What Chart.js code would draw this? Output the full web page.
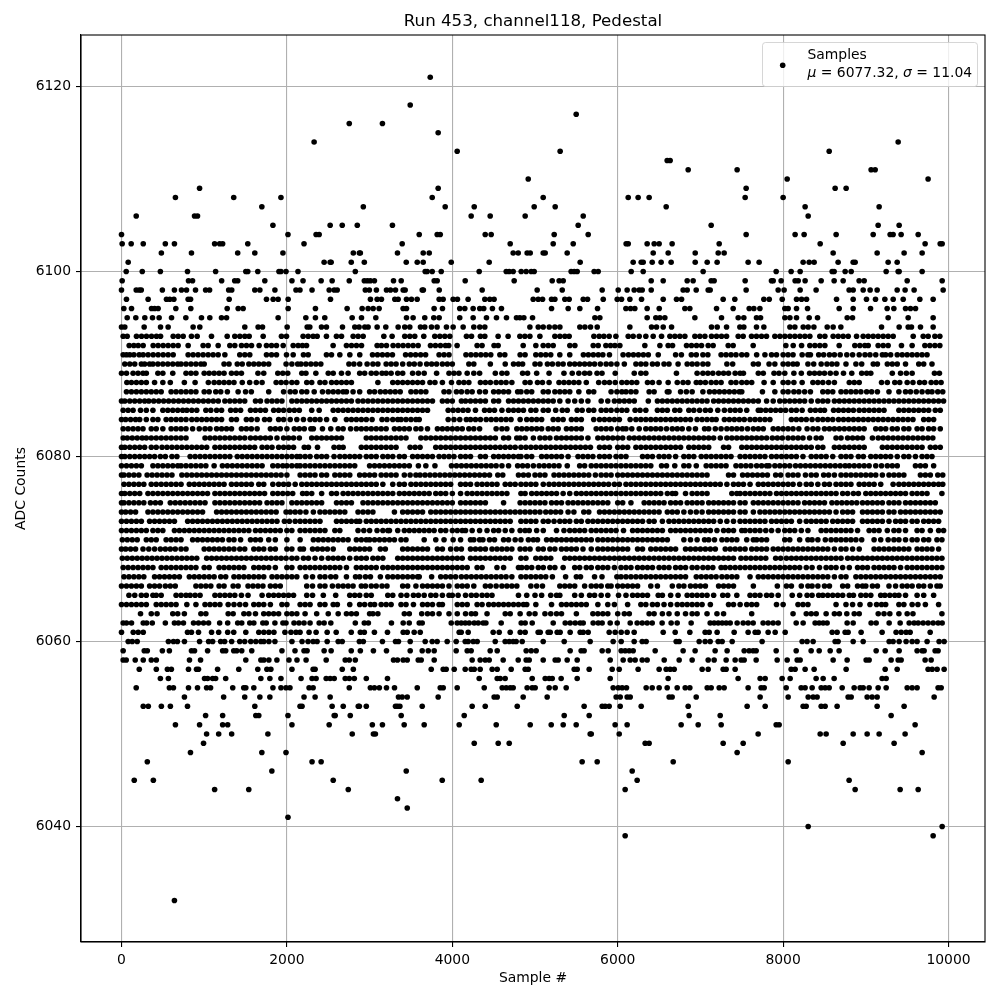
<!DOCTYPE html>
<html>
<head>
<meta charset="utf-8">
<title>Run 453, channel118, Pedestal</title>
<script src="https://cdn.jsdelivr.net/npm/chart.js@4"></script>
<style>
    html, body { margin: 0; padding: 0; background: #fff; }
    #box { width: 1000px; height: 1000px; }
</style>
</head>
<body>
<div id="box"><canvas id="pedestalChart" width="1000" height="1000"></canvas></div>
<script>
// Sample numbers, one list per ADC level
const adc6121 = [3733];
const adc6118 = [3491];
const adc6117 = [5498];
const adc6116 = [2754,3155];
const adc6115 = [3829];
const adc6114 = [2329,9391];
const adc6113 = [4059,5304,8557];
const adc6112 = [6598,6634];
const adc6111 = [6852,7444,9064,9113];
const adc6110 = [4918,8049,9753];
const adc6109 = [944,3829,7553,8629,8762];
const adc6108 = [652,1357,1928,3757,5099,6127,6247,6380,7541,8000];
const adc6107 = [1697,2924,3914,4265,4990,5244,6586,8266,9161];
const adc6106 = [178,883,919,4228,4458,4881,5583,8303];
const adc6105 = [1831,2523,2669,2851,3276,5522,7130,9149,9403];
const adc6104 = [0,2013,2353,2390,3600,3817,3854,4398,4470,5232,5643,7553,8145,8254,8641,9089,9294,9330,9427,9633];
const adc6103 = [8,117,263,530,640,1126,1187,1223,1527,2207,3394,4700,5220,5462,6102,6127,6356,6441,6501,6658,7227,8448,9717,9899,9923];
const adc6102 = [482,846,1405,1612,1952,2803,2876,2888,3337,3648,3721,4736,4797,4905,4942,5099,5123,5389,6429,6610,6937,7215,7287,8605,9137,9463,9681];
const adc6101 = [81,2450,2523,2535,2778,2936,3443,3576,3648,3987,4446,5546,6187,6284,6308,6417,6525,6646,6937,7082,7202,7577,7710,8242,8315,8375,8665,8847,8871,9270,9379];
const adc6100 = [57,251,470,798,1138,1503,1527,1648,1904,1928,1989,2134,2827,3672,3696,3757,3866,4325,4652,4688,4736,4833,4893,4954,4990,5437,5474,5510,5715,5764,6163,6308,7033,7916,8097,8206,8593,8617,8750,8823,9246,9391,9403,9681];
const adc6099 = [8,810,859,1211,1369,1405,1733,2061,2195,2414,2547,2754,2936,2973,3009,3058,3289,3382,3781,3817,4156,4748,5208,5292,5341,6405,6550,6840,6912,7130,7166,7541,7859,7880,7976,8145,8182,8266,8460,8617,8726,8919,8980,9500,9923];
const adc6098 = [0,178,215,239,494,640,725,786,895,1017,1065,1296,1333,1612,1673,1855,2110,2158,2304,2511,2572,2608,2948,2997,3082,3204,3252,3313,3406,3430,3636,3650,3842,4361,5026,5329,5812,6006,6114,6199,6260,6296,6405,6791,6840,6949,7094,7118,7553,7940,8012,8206,8399,8798,8847,8968,9052,9137,9379,9475,9584,9935];
const adc6097 = [60,322,544,584,633,806,835,1302,1753,1834,1894,2015,2527,3010,3091,3143,3305,3345,3446,3506,3575,3841,3889,4010,4062,4191,4393,4453,4505,4978,5039,5091,5200,5240,5361,5413,5583,5635,5825,5994,6046,6147,6288,6550,6711,6772,7275,7416,7767,7832,7989,8162,8223,8283,8646,8847,9008,9117,9230,9331,9452,9653,9814];
const adc6096 = [28,121,363,400,443,657,838,1278,1411,1471,2015,2345,2728,2910,2982,3043,3115,3405,3446,3780,3881,4090,4151,4252,4332,4380,4485,4594,5200,5401,5542,5756,6099,6155,6207,6356,6502,6812,6872,7195,7396,7590,7646,7719,8021,8061,8162,8295,8678,8847,9057,9258,9339,9480,9540,9601];
const adc6095 = [69,173,282,375,455,605,778,967,1068,1209,1270,1894,2229,2345,2458,2789,2902,3075,3446,3526,3667,3776,3841,4090,4252,4413,4534,4655,4776,4817,4865,4970,5724,5784,6356,6461,6510,6570,6933,7255,7457,7525,7678,7727,8021,8082,8162,8315,8416,8775,8839,9270,9512,9814];
const adc6094 = [0,40,274,472,564,866,947,1491,1652,1705,2003,2245,2277,2418,2478,2672,2821,2873,2942,2982,3091,3196,3345,3425,3486,3615,3667,3748,3816,3929,4010,4131,4260,4332,4393,4938,5039,5099,5172,5240,5301,5542,5603,5671,5752,6147,6409,6469,6550,6651,7134,7203,7316,7477,7525,7678,7767,8082,8142,8243,8303,8372,8533,8605,8698,9190,9403,9512,9552,9661,9814];
const adc6093 = [20,69,181,242,302,363,423,472,625,685,746,846,915,1088,1278,1370,1431,1491,1544,1713,1934,1995,2196,2257,2317,2366,2478,2599,2660,2801,2861,2922,3172,3272,3425,3486,3546,3655,3788,3849,3909,3970,4171,4232,4340,4393,4554,4675,4817,4877,4938,5059,5240,5301,5361,5413,5712,5776,5833,5897,5978,6127,6187,6260,6340,6429,6530,6631,6691,6751,6812,6933,6993,7054,7134,7195,7255,7316,7457,7517,7618,7678,7739,7799,7900,7961,8021,8082,8142,8203,8263,8323,8444,8505,8605,8666,8726,8787,8888,8968,9029,9089,9149,9210,9270,9331,9573,9694,9754,9835,9895];
const adc6092 = [93,149,202,262,383,443,504,564,625,685,806,987,1048,1169,1310,1370,1451,1511,1572,1664,1753,1814,1874,1955,2076,2136,2188,2237,2559,2720,2781,2841,2902,3091,3143,3204,3284,3345,3405,3466,3526,3587,3736,3796,3857,3917,3957,4058,4300,4360,4505,4554,4857,5010,5099,5160,5220,5421,5482,5704,5764,5857,5913,5966,6026,6328,6510,6610,6663,6832,6892,6953,7013,7094,7154,7336,7396,7638,8033,8122,8223,8323,8384,8444,8505,8678,8867,8928,8988,9029,9149,9210,9270,9431,9560,9714,9774,9835,9895];
const adc6091 = [20,60,100,150,214,262,322,383,443,504,564,625,806,866,926,987,1048,1108,1169,1250,1430,1491,1551,1753,1814,1874,1995,2076,2200,2257,2478,2539,2640,2761,2881,3035,3095,3155,3215,3276,3435,3496,3556,3617,3677,3840,3900,3960,4165,4225,4285,4345,4405,4465,4575,4635,4820,4880,5010,5070,5130,5190,5300,5420,5585,5645,5705,5765,5820,5900,6065,6130,6190,6250,6310,6370,6490,6700,6770,6890,6950,7030,7090,7250,7310,7370,7430,7500,7560,7680,7780,7860,7920,8000,8060,8120,8230,8300,8330,8430,8490,8560,8620,8690,8770,8840,8920,8990,9050,9120,9200,9240,9300,9380,9440,9500,9560,9620,9680,9740];
const adc6090 = [40,100,160,240,280,340,380,440,500,560,620,680,720,780,840,900,960,1000,1240,1300,1400,1460,1540,1600,1660,1720,1780,1990,2060,2130,2170,2230,2290,2350,2410,2750,2810,2880,2970,3040,3100,3200,3260,3320,3400,3480,3540,3610,3690,3750,3810,3880,3940,4000,4200,4260,4460,4640,4740,4800,4850,5000,5060,5150,5210,5280,5340,5420,5480,5540,5600,5660,5720,5790,5860,5920,5990,6080,6220,6280,6340,6420,6480,6560,6620,6730,6840,6900,6960,7030,7090,7320,7390,7640,7700,7830,7900,8000,8060,8120,8170,8300,8370,8460,8530,8590,8650,8760,8880,8950,9090,9140,9260,9320,9380,9480,9640,9700,9800];
const adc6089 = [0,60,140,200,260,300,440,500,620,780,840,900,1000,1060,1120,1180,1240,1330,1390,1450,1650,1720,1890,1950,2010,2180,2230,2350,2500,2560,2660,2740,2880,2940,3020,3080,3150,3200,3260,3340,3400,3520,3590,3660,3810,3960,4020,4080,4180,4260,4330,4520,4600,4660,4850,4910,5020,5170,5350,5450,5530,5600,5660,5750,5810,5970,6200,6280,6340,6710,6960,7030,7090,7150,7220,7280,7340,7420,7480,7520,7700,7760,7890,7950,8020,8130,8220,8320,8380,8440,8500,8570,8640,8730,8830,8950,9010,9060,9320,9420,9490,9560,9830,9890];
const adc6088 = [65,120,180,240,300,400,500,590,760,890,1050,1120,1180,1240,1300,1360,1460,1550,1630,1700,1870,1930,1990,2060,2120,2240,2300,2400,2460,2540,2600,2660,2720,2780,3100,3280,3340,3400,3460,3520,3580,3640,3730,3790,3880,3990,4080,4140,4200,4340,4400,4460,4530,4590,4650,4720,4880,4940,5030,5090,5170,5290,5350,5410,5470,5530,5620,5770,5840,5900,5970,6050,6110,6170,6230,6360,6420,6500,6610,6720,6790,6850,6950,7000,7060,7130,7190,7250,7370,7430,7500,7560,7620,7770,7880,8000,8060,8130,8230,8360,8420,8480,8550,8620,8800,8860,8920,9190,9260,9350,9410,9500,9570,9650,9710,9790,9850,9910];
const adc6087 = [60,120,180,240,300,360,420,480,600,660,720,780,840,900,1000,1060,1140,1200,1280,1410,1500,1570,1780,1960,2040,2100,2180,2240,2330,2430,2500,2560,2620,2680,2720,2800,2880,3000,3060,3130,3190,3250,3310,3370,3500,3560,3620,3680,3900,3960,4050,4110,4180,4240,4330,4400,4500,4560,4620,4680,4790,4830,4900,4960,5100,5160,5240,5300,5360,5420,5530,5650,5710,5920,5990,6050,6100,6160,6220,6380,6440,6600,6620,6760,6830,6900,7030,7110,7170,7230,7290,7350,7410,7470,7500,7750,7900,8000,8060,8130,8190,8260,8330,8480,8540,8600,8700,8760,8820,8880,8940,9010,9070,9140,9280,9400,9480,9540,9610,9680,9750,9800,9870,9930];
const adc6086 = [0,40,100,160,220,280,330,390,450,510,570,630,690,750,810,870,930,990,1050,1110,1170,1250,1310,1370,1430,1490,1620,1680,1760,1820,1880,1940,2060,2120,2180,2240,2300,2360,2420,2480,2540,2600,2660,2720,2780,2860,2920,2980,3040,3100,3160,3220,3280,3340,3400,3460,3520,3580,3640,3700,3760,3880,3940,4000,4110,4160,4220,4280,4340,4400,4500,4560,4680,4740,4800,4860,4920,4980,5040,5100,5160,5220,5300,5400,5480,5560,5640,5800,5880,5960,6020,6080,6140,6200,6370,6480,6540,6600,6660,6720,6780,6840,6900,6960,7020,7080,7160,7220,7280,7340,7400,7460,7520,7580,7640,7700,7800,7880,7960,8020,8080,8140,8200,8260,8340,8420,8480,8540,8620,8680,8740,8800,8860,8920,8980,9040,9100,9160,9220,9280,9340,9400,9460,9520,9580,9640,9700,9760,9820,9880,9940];
const adc6085 = [20,80,140,230,300,380,500,560,620,680,740,790,850,910,1020,1080,1150,1210,1320,1380,1440,1560,1620,1680,1740,1840,1900,1960,2030,2090,2150,2300,2390,2560,2620,2680,2740,2800,2860,2920,2980,3040,3100,3160,3220,3280,3340,3400,3460,3520,3580,3640,3700,3950,4010,4070,4130,4190,4280,4390,4450,4510,4600,4680,4740,4800,4860,4950,5010,5100,5160,5250,5330,5390,5510,5570,5650,5710,5800,5860,5920,5990,6050,6110,6210,6270,6340,6480,6540,6600,6690,6750,6860,6920,6990,7060,7120,7210,7290,7360,7420,7480,7560,7700,7730,7790,7850,7910,7970,8030,8100,8160,8230,8330,8390,8450,8500,8610,8670,8730,8790,8850,8920,8980,9040,9100,9160,9220,9400,9460,9520,9580,9640,9700,9760,9840,9900];
const adc6084 = [0,50,110,170,220,300,380,440,540,600,660,720,780,850,910,970,1030,1090,1150,1210,1330,1390,1510,1570,1640,1730,1790,1900,1960,2040,2120,2200,2280,2340,2400,2480,2580,2720,2780,2840,2900,2960,3030,3150,3210,3280,3340,3380,3440,3500,3560,3600,3950,4020,4090,4170,4220,4280,4340,4410,4470,4530,4590,4650,4710,4820,4900,4960,5020,5080,5220,5280,5340,5440,5500,5560,5710,5780,5840,5900,5960,6020,6150,6220,6280,6340,6400,6460,6520,6580,6640,6700,6760,6820,6880,6960,7020,7080,7140,7190,7290,7350,7410,7470,7530,7600,7660,7720,7780,7840,8100,8160,8220,8280,8350,8420,8480,8540,8600,8670,8730,8790,8850,8910,8970,9030,9090,9150,9210,9270,9330,9390,9450,9510,9570,9700,9760,9820];
const adc6083 = [20,80,140,200,260,360,420,500,600,660,720,780,860,940,1010,1070,1150,1210,1270,1330,1450,1510,1570,1640,1800,1860,1920,2000,2090,2150,2210,2290,2320,2430,2530,2620,2680,2770,2840,2900,2960,3020,3080,3140,3200,3300,3360,3420,3480,3560,3620,3700,3820,3880,3940,4000,4060,4120,4200,4260,4330,4530,4600,4660,4780,4840,4900,4960,5020,5080,5160,5220,5280,5380,5440,5500,5560,5740,5800,5860,5920,6000,6060,6100,6170,6260,6340,6400,6460,6520,6590,6660,6720,6780,6860,6940,7050,7100,7180,7250,7320,7380,7440,7500,7570,7640,7700,7760,7880,7940,8000,8060,8120,8190,8290,8360,8420,8500,8560,8620,8680,8740,8800,8860,8920,8980,9120,9180,9240,9320,9380,9460,9520,9620,9680,9760,9820,9900];
const adc6082 = [20,70,130,190,250,300,360,420,480,540,600,660,720,780,1010,1070,1130,1190,1250,1310,1370,1430,1490,1560,1620,1680,1740,1800,1880,1960,2020,2080,2150,2300,2360,2420,2480,2540,2600,2660,2960,3020,3080,3140,3200,3260,3320,3380,3440,3620,3680,3740,3800,3860,3920,3980,4040,4100,4160,4220,4280,4340,4400,4460,4520,4620,4680,4780,4820,4880,4980,5060,5120,5180,5260,5320,5380,5440,5500,5560,5640,5760,5820,5880,5940,6000,6060,6140,6200,6260,6320,6380,6440,6500,6560,6620,6680,6740,6800,6860,6920,6980,7040,7100,7160,7240,7320,7380,7440,7500,7560,7620,7680,7740,7800,7870,7930,7990,8060,8120,8180,8240,8320,8400,8460,8640,8700,8780,8840,8900,8960,9080,9150,9210,9270,9330,9390,9450,9510,9570,9630,9690,9750,9810];
const adc6081 = [0,40,100,160,220,280,360,420,490,550,610,670,730,790,850,910,970,1030,1130,1190,1250,1310,1370,1430,1490,1550,1610,1700,1760,1820,1900,1960,2020,2080,2210,2260,2370,2570,2630,2680,2900,2960,3020,3080,3140,3200,3260,3320,3490,3550,3610,3800,3860,3920,3980,4040,4100,4160,4220,4280,4340,4400,4460,4520,4580,4640,4700,4760,4830,4890,4950,5010,5070,5130,5190,5250,5310,5370,5430,5490,5550,5610,5670,5780,5840,5900,6000,6060,6120,6220,6280,6340,6400,6460,6520,6580,6640,6700,6760,6860,6920,6980,7040,7100,7280,7340,7500,7560,7620,7680,7740,7800,7860,7920,7980,8040,8100,8160,8220,8280,8340,8420,8480,8620,8680,8740,8800,8860,8920,8980,9200,9260,9320,9380,9440,9500,9560,9620,9680,9780,9840,9900];
const adc6080 = [0,40,100,160,220,280,340,400,470,530,610,670,830,890,950,1010,1070,1130,1190,1250,1310,1400,1460,1520,1580,1640,1700,1760,1820,1880,1940,2000,2060,2120,2160,2220,2280,2360,2420,2480,2570,2640,2700,2760,2820,2880,2960,3020,3080,3160,3220,3280,3360,3420,3520,3580,3640,3700,3760,3840,3900,3960,4020,4100,4160,4220,4340,4400,4500,4560,4620,4680,4740,4800,4830,4900,4960,5080,5140,5200,5260,5320,5400,5520,5580,5640,5700,5780,5840,5900,5980,6040,6100,6300,6360,6420,6500,6560,6620,6700,6800,6860,6920,7010,7070,7130,7190,7250,7310,7370,7480,7540,7600,7660,7720,7780,7860,7920,7980,8040,8100,8160,8240,8340,8400,8460,8520,8600,8700,8760,8820,8910,8970,9060,9120,9180,9240,9300,9380,9460,9520,9600,9680,9740,9800];
const adc6079 = [0,60,120,180,240,380,440,500,560,620,680,720,780,840,900,960,1020,1120,1220,1280,1340,1400,1460,1520,1580,1640,1700,1830,1890,1950,2000,2060,2120,2160,2220,2280,2340,2400,2460,2520,2580,2640,2700,2760,2820,3000,3060,3120,3180,3240,3300,3360,3420,3480,3590,3680,3790,3990,4050,4110,4170,4230,4290,4350,4410,4470,4530,4600,4680,4790,4850,4910,4980,5050,5110,5170,5230,5290,5390,5540,5600,5680,5740,5800,5860,5920,5980,6040,6100,6160,6220,6280,6340,6400,6530,6590,6690,6800,6860,6950,7070,7130,7190,7250,7310,7430,7490,7550,7610,7680,7740,7800,7830,7900,7960,8020,8080,8150,8210,8270,8330,8390,8450,8510,8570,8630,8690,8750,8800,8860,8920,8980,9040,9120,9190,9260,9320,9380,9600,9660,9720,9820];
const adc6078 = [0,30,90,150,210,310,370,430,490,550,610,730,790,850,910,970,1030,1090,1150,1210,1270,1330,1390,1450,1510,1570,1630,1690,1750,1810,1870,1930,2000,2160,2220,2280,2340,2420,2480,2580,2640,2700,2760,2880,2940,3000,3060,3140,3200,3260,3320,3420,3490,3560,3610,3670,3730,3790,3850,3910,3970,4030,4090,4150,4210,4270,4330,4390,4450,4550,4610,4800,4860,4920,5000,5060,5120,5230,5290,5350,5410,5470,5530,5590,5650,5730,5800,5860,5920,6000,6060,6120,6180,6240,6300,6360,6420,6480,6540,6600,6660,6720,6780,6840,6900,6960,7020,7080,7340,7400,7510,7570,7630,7690,7750,7810,7910,7970,8060,8120,8180,8270,8340,8400,8490,8550,8620,8700,8760,8820,8880,8940,9000,9060,9120,9200,9280,9340,9400,9460,9660,9720,9780,9870,9930];
const adc6077 = [30,90,150,210,270,360,420,480,540,600,660,720,820,880,940,1000,1060,1120,1180,1240,1330,1390,1450,1510,1570,1660,1720,1830,1900,1960,2020,2100,2180,2240,2300,2360,2420,2480,2540,2600,2660,2720,2780,2840,2900,2960,3020,3080,3160,3280,3360,3420,3500,3560,3620,3680,3740,3800,3860,3920,3980,4100,4160,4220,4300,4360,4420,4480,4540,4640,4700,4760,4830,4890,4950,5010,5100,5170,5230,5290,5350,5410,5470,5530,5590,5650,5710,5770,5830,5890,5960,6020,6100,6160,6220,6280,6340,6400,6460,6520,6580,6640,6700,6760,6820,6880,6940,7000,7060,7120,7180,7240,7320,7400,7460,7520,7600,7700,7760,7820,7880,7940,8000,8060,8120,8200,8280,8340,8420,8500,8560,8640,8700,8760,8820,8920,8980,9040,9100,9180,9330,9400,9460,9520,9580,9640,9700,9760,9820,9880,9930];
const adc6076 = [0,40,100,160,220,320,380,440,500,560,620,680,740,800,860,920,980,1040,1130,1190,1250,1310,1370,1430,1490,1550,1610,1670,1730,1830,1890,1950,2010,2070,2190,2240,2300,2420,2540,2600,2680,2740,2800,2860,2920,2980,3040,3100,3160,3220,3280,3360,3420,3480,3540,3600,3660,3720,3800,3860,3920,4000,4100,4180,4240,4300,4360,4420,4480,4540,4600,4660,4830,4880,4960,5020,5080,5140,5200,5260,5340,5420,5500,5560,5620,5680,5740,5800,5860,5920,5980,6040,6100,6160,6220,6280,6340,6400,6460,6520,6600,6660,6700,6820,6900,6960,7020,7080,7380,7440,7480,7540,7600,7660,7720,7780,7840,7920,7980,8040,8100,8160,8220,8280,8340,8400,8460,8520,8580,8640,8720,8780,8850,8910,9000,9060,9120,9180,9240,9300,9360,9420,9480,9560,9620,9680,9740,9920];
const adc6075 = [0,30,90,150,210,270,350,410,470,590,650,710,770,830,890,950,1010,1130,1190,1250,1310,1370,1430,1490,1550,1610,1670,1760,1820,1880,1940,2060,2120,2180,2240,2300,2360,2420,2600,2660,2720,2780,2920,2980,3040,3100,3160,3220,3280,3340,3400,3460,3520,3580,3640,3700,3760,3820,3880,3940,4000,4100,4160,4220,4280,4340,4400,4620,4820,4880,4940,5000,5060,5120,5200,5260,5320,5400,5460,5520,5580,5640,5700,5760,5820,5880,6000,6060,6160,6320,6380,6440,6500,6560,6640,6700,6760,6840,6900,6960,7020,7100,7160,7220,7280,7340,7400,7480,7540,7640,7700,7760,7820,7880,7940,8000,8060,8120,8180,8260,8320,8380,8440,8500,8590,8650,8710,8770,8830,8890,8960,9020,9080,9140,9200,9280,9340,9400,9480,9540,9600,9660,9720,9780,9840];
const adc6074 = [0,50,110,170,320,380,440,500,560,620,680,740,800,860,920,980,1150,1210,1270,1330,1390,1450,1510,1570,1630,1690,1750,1810,1870,1990,2040,2100,2160,2230,2320,2400,2460,2520,2580,2640,2700,2860,2920,2980,3040,3300,3400,3460,3520,3580,3640,3740,3800,3860,3920,3980,4040,4100,4160,4220,4280,4340,4400,4460,4520,4580,4640,4700,4760,4820,4880,4940,5000,5060,5130,5190,5250,5310,5400,5470,5590,5650,5780,5840,5900,5960,6020,6080,6140,6200,6260,6320,6380,6440,6500,6600,6660,6720,6800,6880,6950,7020,7100,7160,7220,7280,7340,7400,7480,7540,7640,7720,7780,7840,7900,7960,8020,8080,8140,8200,8260,8320,8380,8440,8500,8560,8640,8720,8780,8840,8960,9020,9080,9140,9200,9280,9340,9420,9480,9540,9600,9660,9720,9780,9840,9900];
const adc6073 = [0,60,120,180,240,340,400,460,520,580,640,800,860,920,980,1040,1100,1160,1220,1280,1340,1400,1460,1520,1580,1640,1700,1760,1820,1880,1970,2030,2100,2160,2220,2280,2340,2400,2600,2660,2720,2780,2840,2880,2960,3020,3080,3140,3200,3260,3320,3380,3440,3500,3560,3620,3680,3740,3800,3860,3920,3980,4040,4100,4160,4220,4280,4340,4400,4460,4520,4580,4640,4700,4830,4890,4950,5010,5100,5160,5230,5300,5360,5420,5500,5560,5640,5700,5760,5820,5880,5940,6000,6060,6120,6180,6240,6300,6380,6440,6540,6620,6680,6740,6800,6860,6920,6980,7040,7100,7160,7240,7320,7400,7480,7540,7600,7660,7720,7780,7860,7920,7980,8040,8100,8200,8280,8340,8400,8460,8520,8600,8660,8720,8780,8840,8960,9020,9080,9140,9200,9280,9360,9420,9480,9560,9620,9700,9760,9820,9880];
const adc6072 = [0,60,120,180,240,300,380,440,500,640,700,760,820,880,940,1000,1060,1120,1180,1240,1300,1360,1420,1480,1540,1620,1680,1740,1800,1860,1920,2000,2060,2160,2220,2280,2340,2400,2460,2580,2640,2860,2930,3000,3090,3160,3220,3240,3340,3420,3480,3540,3600,3660,3720,3780,3860,3920,4000,4060,4120,4160,4240,4330,4420,4500,4560,4640,4720,4820,4880,4930,5020,5100,5260,5350,5420,5480,5540,5600,5680,5740,5800,5860,5920,5980,6070,6180,6240,6300,6360,6420,6480,6540,6640,6700,6760,6820,6880,6940,7000,7060,7120,7200,7280,7340,7400,7500,7540,7600,7660,7720,7790,7860,7940,8020,8080,8140,8220,8300,8460,8520,8580,8640,8700,8760,8820,8900,9040,9100,9160,9260,9340,9400,9480,9620,9680,9780,9880,9940];
const adc6071 = [10,70,130,190,300,360,420,540,600,660,720,860,920,980,1040,1100,1160,1220,1300,1360,1440,1560,1620,1680,1780,1860,2000,2160,2320,2380,2440,2500,2560,2620,2680,2740,2840,2900,2960,3000,3060,3120,3180,3240,3300,3380,3440,3660,3800,3900,4010,4100,4220,4260,4330,4370,4450,4510,4620,4680,4760,4830,4920,4980,5030,5140,5200,5260,5320,5380,5440,5500,5560,5620,5680,5760,5820,5880,5940,6000,6060,6120,6180,6240,6300,6360,6420,6480,6540,6600,6800,6880,6960,7050,7100,7170,7260,7320,7380,7440,7560,7640,7680,7740,7800,8020,8080,8200,8300,8350,8420,8510,8580,8640,8700,8760,8820,8880,8950,9100,9180,9270,9340,9400,9480,9560,9620,9700,9760,9860,9920];
const adc6070 = [0,50,110,170,260,330,400,470,530,590,650,720,780,1000,1060,1120,1180,1240,1300,1360,1430,1490,1600,1660,1720,1800,1860,2000,2060,2160,2200,2310,2370,2430,2490,2560,2760,2820,2880,2940,3000,3130,3190,3400,3460,3520,3580,3640,3700,3820,3880,3980,4050,4110,4220,4280,4340,4400,4480,4540,4600,4660,4720,4820,4880,4940,5040,5100,5180,5240,5320,5380,5440,5500,5580,5680,5760,5820,5880,5940,6000,6060,6120,6240,6300,6400,6460,6520,6580,6640,6700,6820,6880,6940,7000,7060,7120,7180,7300,7360,7420,7480,7540,7620,7680,7740,7800,7880,7940,8000,8060,8120,8180,8240,8300,8360,8420,8480,8540,8620,8700,8760,8840,8920,9100,9160,9220,9280,9340,9400,9460,9520,9620,9680,9740,9800,9880];
const adc6069 = [10,70,130,190,250,310,370,430,490,550,610,670,730,790,850,910,1030,1090,1150,1210,1270,1330,1390,1450,1510,1570,1630,1690,1750,1810,1870,1930,1990,2060,2120,2200,2260,2340,2420,2500,2560,2620,2680,2760,2840,2900,2960,3040,3100,3160,3340,3400,3460,3520,3580,3640,3700,3760,3820,3880,3940,4000,4060,4120,4220,4280,4340,4400,4460,4520,4580,4640,4700,4830,4890,5010,5070,5130,5190,5360,5420,5480,5540,5600,5660,5720,5780,5840,5900,5960,6020,6080,6140,6200,6260,6320,6380,6440,6500,6560,6620,6680,6740,6800,6860,6920,6980,7040,7100,7160,7220,7280,7340,7400,7490,7550,7610,7670,7730,7790,7910,7970,8040,8100,8160,8220,8280,8340,8400,8460,8520,8580,8640,8700,8780,8840,8900,8960,9020,9080,9140,9200,9260,9320,9380,9440,9500,9560,9620,9680,9740,9800,9860,9920];
const adc6068 = [20,80,140,200,260,320,380,480,540,600,660,720,780,840,900,1000,1060,1180,1240,1300,1360,1420,1480,1600,1660,1720,1780,1860,2000,2060,2160,2220,2280,2340,2400,2460,2520,2580,2640,2720,2840,2900,2960,3020,3080,3160,3220,3280,3340,3400,3460,3520,3580,3640,3700,3760,3820,3880,3940,4000,4060,4120,4180,4300,4360,4540,4620,4800,4840,4900,4960,5040,5100,5180,5240,5340,5480,5540,5620,5680,5760,5820,5880,5960,6040,6100,6160,6240,6300,6360,6420,6500,6560,6620,6700,6760,6820,6900,6960,7030,7090,7150,7250,7300,7360,7420,7480,7540,7600,7660,7720,7780,7840,7900,7960,8020,8080,8140,8200,8280,8350,8440,8520,8580,8640,8720,8800,8900,8960,9020,9100,9160,9220,9280,9340,9420,9500,9560,9620,9680,9740,9800,9860,9920];
const adc6067 = [30,90,150,210,270,400,460,520,580,640,700,820,880,940,1000,1060,1120,1200,1260,1360,1420,1480,1540,1600,1660,1720,1820,1880,1940,2000,2060,2120,2230,2310,2400,2460,2530,2590,2720,2830,2880,2950,3010,3130,3220,3280,3340,3400,3460,3520,3580,3600,3750,3860,3920,3980,4040,4110,4170,4230,4290,4350,4410,4470,4530,4590,4650,4720,4830,4890,4950,5010,5070,5130,5210,5370,5500,5550,5720,5810,5990,6040,6100,6160,6220,6280,6340,6400,6460,6520,6580,6640,6700,6760,6820,6950,7010,7070,7130,7190,7260,7320,7380,7440,7600,7700,7760,7820,7880,7940,8000,8060,8120,8180,8240,8300,8360,8420,8480,8540,8620,8700,8760,8880,8940,9000,9060,9120,9180,9240,9300,9360,9420,9480,9540,9600,9660,9720,9780,9840,9900];
const adc6066 = [0,60,120,180,240,340,400,460,530,590,650,900,960,1020,1080,1180,1240,1350,1410,1530,1590,1650,1710,1800,1860,1920,2240,2310,2400,2460,2550,2620,2680,2740,2800,2900,2950,3020,3080,3150,3210,3400,3460,3560,3640,3700,3760,3820,3880,3960,4060,4120,4180,4260,4400,4460,4530,4600,4660,4720,4780,4950,5020,5090,5300,5360,5420,5480,5600,5680,5740,5800,5880,5920,6000,6060,6120,6180,6240,6400,6480,6660,6740,6800,6880,6940,7000,7060,7220,7280,7340,7400,7640,7930,8040,8100,8220,8300,8350,8420,8500,8560,8720,8780,8900,8960,9000,9080,9140,9280,9360,9440,9500,9560,9640,9700,9780,9860,9900];
const adc6065 = [90,160,240,300,380,420,480,660,720,780,830,890,950,1130,1190,1250,1310,1370,1450,1530,1700,1780,1840,1900,1960,2020,2080,2240,2310,2440,2590,2760,2820,2880,2960,3020,3220,3280,3380,3450,3530,3590,3660,3740,3800,3880,3960,4000,4070,4160,4230,4290,4360,4420,4480,4800,4900,5000,5080,5190,5260,5300,5480,5560,5660,5720,5800,5880,6010,6100,6180,6240,6300,6360,6490,6540,6640,6730,6840,6900,6960,7020,7080,7160,7270,7330,7440,7600,7660,7720,7800,7860,7940,8110,8200,8290,8350,8430,8480,8540,8600,8660,8720,8800,8850,8940,9000,9060,9180,9230,9290,9350,9400,9480,9620,9700,9820];
const adc6064 = [0,60,120,180,240,300,420,480,540,600,660,790,900,1010,1070,1130,1190,1290,1360,1430,1500,1600,1660,1720,1800,1940,2000,2160,2220,2280,2400,2460,2560,2610,2760,2880,2940,3010,3060,3140,3200,3260,3380,3440,3530,3640,3700,3760,3840,3880,4060,4120,4180,4300,4360,4440,4500,4560,4620,4680,4740,4800,4860,4900,5010,5200,5320,5380,5440,5500,5560,5620,5760,5880,5960,6120,6280,6340,6420,6480,6560,6640,6720,6780,6840,6900,6960,7020,7120,7340,7400,7480,7560,7620,7680,7920,8000,8180,8240,8300,8640,8760,8840,8930,9050,9130,9190,9240,9400,9460,9560,9630,9720,9880];
const adc6063 = [230,360,430,620,680,760,960,1020,1290,1350,1480,1540,1620,1720,1780,1840,1900,2000,2060,2120,2220,2360,2500,2620,2720,2780,2840,3000,3040,3100,3420,3480,3630,3700,3760,3840,3960,4060,4160,4230,4280,4420,4640,4700,4820,4930,5000,5120,5190,5260,5320,5500,5700,5760,5820,5880,6000,6080,6140,6380,6440,6540,6620,6720,6820,6900,6960,7080,7200,7280,7620,8120,8280,8340,8400,8520,8620,8680,8770,8860,8920,9150,9220,9290,9400,9500,9570,9920];
const adc6062 = [20,60,121,263,304,372,530,640,688,749,871,931,992,1053,1187,1284,1405,1454,1551,1600,1709,1750,1855,1952,1989,2086,2146,2207,2280,2390,2450,2531,2827,2936,2985,3264,3406,3479,3600,3636,3987,4059,4108,4156,4204,4265,4313,4373,4406,4591,4833,4881,4966,5220,5365,5425,5486,5546,5583,5703,5764,5812,5909,5994,6151,6235,6296,6356,6417,6537,6646,6719,6888,7118,7166,7215,7263,7311,7360,7444,7517,7577,7638,7758,7819,7879,7940,8158,8242,8387,8436,8484,8532,8774,8847,9064,9125,9282,9415,9524,9584,9633,9693,9753,9814,9874,9923];
const adc6061 = [0,142,202,263,798,846,931,1089,1175,1284,1357,1503,1660,1721,1782,1843,1976,2049,2110,2159,2268,2353,2487,2596,2778,2888,2936,3058,3216,3406,3455,3539,3612,4083,4108,4192,4494,4567,4700,4821,4881,5038,5063,5159,5184,5268,5304,5425,5546,5583,5643,5897,5969,6042,6114,6199,6550,6695,6872,7057,7106,7202,7408,7577,7662,7698,7819,7904,8025,8593,8653,8750,8786,8943,9197,9366,9427,9487,9536,9778];
const adc6060 = [81,130,190,567,628,676,761,944,1053,1102,1199,1247,1332,1430,1490,1563,1624,1685,1721,1782,1855,2061,2183,2256,2317,2365,2487,2620,2669,2876,2924,3155,3313,3349,3491,3672,3757,3817,3938,4047,4156,4192,4253,4301,4519,4639,4688,4736,4772,4845,5099,5353,5667,5945,6042,6199,6296,6344,6707,6743,6985,7057,7118,7215,7263,7384,7746,8230,8290,8363,8629,8665,8847,8968,9282,9330,9403,9487,9560,9620,9741,9886,9947];
const adc6059 = [20,275,312,494,579,846,883,1041,1223,1260,1357,1393,1454,1575,1940,2098,2207,2244,2450,2535,2778,2888,3046,3204,3491,3636,3709,3781,4047,4180,4228,4458,4543,4893,4954,5014,5425,5558,5594,5812,5885,6042,6090,6139,6187,6453,6791,6936,7178,7323,7529,7589,7638,7674,7916,8158,8339,8436,8569,8677,9125,9234,9403,9620,9681,9705,9838,9874];
const adc6058 = [20,57,166,263,360,421,822,956,1503,1685,1721,1782,1879,2025,2122,2232,2475,2705,2754,2827,3289,3337,3406,3455,3588,3624,3781,4240,4337,4398,4446,4615,4797,4893,4930,5099,5244,5280,5389,5510,5909,6066,6151,6211,6296,6356,6562,6743,6900,7094,7166,7311,7420,7493,7529,7674,7928,8049,8170,8206,8605,8774,9004,9040,9306,9391,9427,9717,9790];
const adc6057 = [215,421,555,603,810,907,931,1162,1418,1648,1758,1806,2061,2317,2341,2669,2803,3745,3890,3926,4023,4156,4228,4265,4337,4482,4543,4712,4881,4918,5474,5510,5655,5933,6018,6247,6501,6586,6634,6683,7021,7094,7275,7311,7420,8097,8145,8266,8375,8762,9234,9379,9753,9802,9862,9947];
const adc6056 = [470,567,1004,1041,1102,1138,1260,1685,1794,1928,2171,2304,2353,2475,2523,2572,2705,2754,2815,2960,3216,4325,4543,4579,4639,4966,5123,5171,5208,5316,5510,5909,6610,7456,7722,7783,7988,8085,8399,8484,8617,9197,9246];
const adc6055 = [178,579,628,810,919,1029,1077,1345,1478,1503,1600,1831,1928,1989,2037,2268,2317,2754,3009,3058,3118,3204,3301,3576,3854,3890,4059,4386,4603,4652,4700,4736,4905,4966,5002,5171,5244,5377,5945,6006,6054,6106,6344,6417,6501,6598,6719,6816,6872,7082,7130,7227,7287,7577,7734,7771,8037,8218,8266,8351,8460,8508,8557,8714,8859,8931,8968,9040,9149,9246,9500,9560,9620,9874,9911];
const adc6054 = [761,1235,1490,1673,1794,2207,2341,2523,3349,3394,3455,3829,4506,4543,4857,5147,5981,6030,6114,6151,6622,6658,6949,7722,8061,8303,8363,8411,8786,8823,9016,9076,9137,9826];
const adc6053 = [263,324,482,591,798,1612,2159,2183,2547,2681,2863,2876,2960,3313,3337,3366,3636,4240,4398,4785,5594,5812,5848,5897,6030,6284,6852,7565,7783,8242,8279,8460,8508,8653,9137,9463];
const adc6052 = [1017,1223,1624,1660,2013,2572,2584,2766,3382,4144,5353,5655,6864,7239,9306];
const adc6051 = [652,944,1223,1284,2061,2511,3033,3155,3418,3660,4083,4531,4942,5196,5341,5498,5969,6114,6767,6973,7251,7916,7952,9596];
const adc6050 = [1029,1175,1332,1770,2790,3046,3070,5667,5680,6018,7698,8448,8520,8847,9016,9161,9475];
const adc6049 = [992,4265,4555,4688,6332,6380,7275,7517,8726,9342];
const adc6048 = [834,1697,1989,7444,9681];
const adc6047 = [312,2304,2414,5570,5752,6671,8061];
const adc6046 = [1818,3443,6175];
const adc6045 = [154,385,2560,3878,4349,6235,8798];
const adc6044 = [1126,1539,2742,6090,8871,9415,9633];
const adc6043 = [3337];
const adc6042 = [3455];
const adc6041 = [2013];
const adc6040 = [8303,9923];
const adc6039 = [6090,9814];
const adc6032 = [640];

const sampleRows = [
    [6121, adc6121], [6118, adc6118], [6117, adc6117], [6116, adc6116], [6115, adc6115], [6114, adc6114],
    [6113, adc6113], [6112, adc6112], [6111, adc6111], [6110, adc6110], [6109, adc6109], [6108, adc6108],
    [6107, adc6107], [6106, adc6106], [6105, adc6105], [6104, adc6104], [6103, adc6103], [6102, adc6102],
    [6101, adc6101], [6100, adc6100], [6099, adc6099], [6098, adc6098], [6097, adc6097], [6096, adc6096],
    [6095, adc6095], [6094, adc6094], [6093, adc6093], [6092, adc6092], [6091, adc6091], [6090, adc6090],
    [6089, adc6089], [6088, adc6088], [6087, adc6087], [6086, adc6086], [6085, adc6085], [6084, adc6084],
    [6083, adc6083], [6082, adc6082], [6081, adc6081], [6080, adc6080], [6079, adc6079], [6078, adc6078],
    [6077, adc6077], [6076, adc6076], [6075, adc6075], [6074, adc6074], [6073, adc6073], [6072, adc6072],
    [6071, adc6071], [6070, adc6070], [6069, adc6069], [6068, adc6068], [6067, adc6067], [6066, adc6066],
    [6065, adc6065], [6064, adc6064], [6063, adc6063], [6062, adc6062], [6061, adc6061], [6060, adc6060],
    [6059, adc6059], [6058, adc6058], [6057, adc6057], [6056, adc6056], [6055, adc6055], [6054, adc6054],
    [6053, adc6053], [6052, adc6052], [6051, adc6051], [6050, adc6050], [6049, adc6049], [6048, adc6048],
    [6047, adc6047], [6046, adc6046], [6045, adc6045], [6044, adc6044], [6043, adc6043], [6042, adc6042],
    [6041, adc6041], [6040, adc6040], [6039, adc6039], [6032, adc6032]
];

const xTickValues = [0, 2000, 4000, 6000, 8000, 10000];
const yTickValues = [6040, 6060, 6080, 6100, 6120];
const legendLabel = 'Samples';
const legendMu = '6077.32';
const legendSigma = '11.04';

// Build the scatter points from the rows
var points = [];
sampleRows.forEach(function (row) {
    row[1].forEach(function (s) {
        points.push({ x: s, y: row[0] });
    });
});

// Frame all round the axes and the matplotlib style legend box
const framePlugin = {
    id: 'frame',
    afterDraw(chart) {
        const ctx = chart.ctx;
        const a = chart.chartArea;
        ctx.save();
        ctx.strokeStyle = '#000';
        ctx.lineWidth = 1.1;
        ctx.strokeRect(a.left, a.top, a.right - a.left, a.bottom - a.top);

        // legend box
        ctx.beginPath();
        ctx.roundRect(762.5, 42.5, 215, 44, 3);
        ctx.fillStyle = 'rgba(255,255,255,0.8)';
        ctx.fill();
        ctx.strokeStyle = 'rgba(204,204,204,0.8)';
        ctx.lineWidth = 1;
        ctx.stroke();

        ctx.beginPath();
        ctx.arc(782.7, 65.3, 2.8, 0, Math.PI * 2);
        ctx.fillStyle = '#000';
        ctx.fill();

        ctx.textBaseline = 'alphabetic';
        ctx.textAlign = 'left';
        const upright = '13.9px "DejaVu Sans"';
        const italic = 'italic 13.9px "DejaVu Sans"';
        ctx.font = upright;
        ctx.fillStyle = '#000';
        ctx.fillText(legendLabel, 807.5, 59);

        // second line, mu and sigma in italics
        var parts = [['μ', italic], [' = ' + legendMu + ', ', upright], ['σ', italic], [' = ' + legendSigma, upright]];
        var x = 807.5;
        parts.forEach(function (p) {
            ctx.font = p[1];
            ctx.fillText(p[0], x, 77);
            x += ctx.measureText(p[0]).width;
        });
        ctx.restore();
    }
};

Chart.defaults.font.family = '"DejaVu Sans"';
Chart.defaults.color = '#000';

var myChart = new Chart(document.getElementById('pedestalChart').getContext('2d'), {
    type: 'scatter',
    data: {
        datasets: [{
            label: legendLabel,
            data: points,
            backgroundColor: '#000',
            borderWidth: 0,
            pointRadius: 2.8,
            pointHoverRadius: 2.8
        }]
    },
    plugins: [framePlugin],
    options: {
        responsive: false,
        animation: false,
        layout: { padding: { right: 15, left: 0, top: 0, bottom: 0 } },
        plugins: {
            legend: { display: false },
            tooltip: { enabled: false },
            title: {
                display: true,
                text: 'Run 453, channel118, Pedestal',
                fullSize: false,
                font: { size: 16.67, weight: 'normal', lineHeight: 1.2 },
                padding: { top: 12, bottom: 3 }
            }
        },
        scales: {
            x: {
                type: 'linear',
                min: -489.7,
                max: 10441,
                title: { display: true, text: 'Sample #', font: { size: 13.9 }, padding: { top: 3, bottom: 13 } },
                grid: { color: '#b0b0b0', lineWidth: 1.1, tickColor: '#000', tickLength: 5, tickWidth: 1.1 },
                border: { color: '#000', width: 1.1 },
                ticks: { font: { size: 13.9 }, padding: 5, maxRotation: 0, autoSkip: false, callback: function (v) { return String(v); } },
                afterBuildTicks: function (scale) { scale.ticks = xTickValues.map(function (v) { return { value: v }; }); },
                afterFit: function (scale) { scale.height = 58; }
            },
            y: {
                type: 'linear',
                min: 6027.51,
                max: 6125.57,
                title: { display: true, text: 'ADC Counts', font: { size: 13.9 }, padding: { top: 13, bottom: 0 } },
                grid: { color: '#b0b0b0', lineWidth: 1.1, tickColor: '#000', tickLength: 5, tickWidth: 1.1 },
                border: { color: '#000', width: 1.1 },
                ticks: { font: { size: 13.9 }, padding: 5, autoSkip: false, callback: function (v) { return String(v); } },
                afterBuildTicks: function (scale) { scale.ticks = yTickValues.map(function (v) { return { value: v }; }); },
                afterFit: function (scale) { scale.width = 81; }
            }
        }
    }
});
</script>
</body>
</html>
